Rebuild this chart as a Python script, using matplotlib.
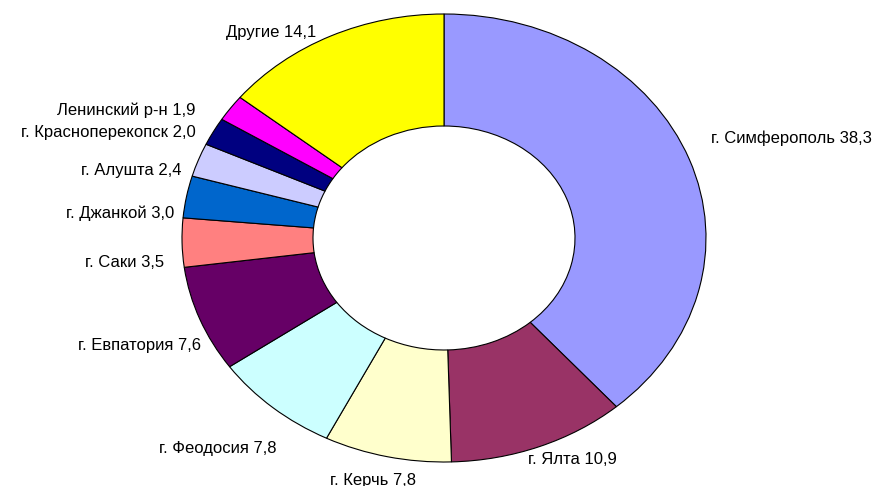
import numpy as np
import matplotlib.pyplot as plt

names = ["г. Симферополь", "г. Ялта", "г. Керчь", "г. Феодосия", "г. Евпатория",
         "г. Саки", "г. Джанкой", "г. Алушта", "г. Красноперекопск",
         "Ленинский р-н", "Другие"]
values = [38.3, 10.9, 7.8, 7.8, 7.6, 3.5, 3.0, 2.4, 2.0, 1.9, 14.1]
value_text = ["38,3", "10,9", "7,8", "7,8", "7,6", "3,5", "3,0", "2,4", "2,0", "1,9", "14,1"]
colors = ["#9999FF", "#993366", "#FFFFCC", "#CCFFFF", "#660066", "#FF8080",
          "#0066CC", "#CCCCFF", "#000080", "#FF00FF", "#FFFF00"]

# small shifts so labels sit like the Excel original
nudge = [(0.008, 0.066), (-0.074, 0.015), (-0.037, -0.026), (0.065, -0.122),
         (0.077, -0.088), (0.01, -0.087), (0.032, -0.089), (0.012, -0.077),
         (0.003, -0.044), (-0.067, -0.055), (-0.023, -0.059)]

plt.rcParams['font.family'] = ['Liberation Sans', 'DejaVu Sans']

fig = plt.figure(figsize=(8.76, 4.86), dpi=100)
ax = fig.add_axes([0, 0, 1, 1])

wedges, _ = ax.pie(values, colors=colors, startangle=90, counterclock=False,
                   radius=1.0,
                   wedgeprops=dict(width=0.5, edgecolor="black", linewidth=0.8))

ax.set_aspect('auto')
# pie center at pixel (444, 238); outer radius 262 px wide, 224 px tall
ax.set_xlim(-444 / 262, (876 - 444) / 262)
ax.set_ylim(-(486 - 238) / 224, 238 / 224)
ax.axis('off')

for w, n, t, (dx, dy) in zip(wedges, names, value_text, nudge):
    ang = np.deg2rad((w.theta1 + w.theta2) / 2)
    x = 1.08 * np.cos(ang)
    y = 1.08 * np.sin(ang)
    if abs(np.cos(ang)) < 0.3:
        ha = "center"
    elif np.cos(ang) > 0:
        ha = "left"
    else:
        ha = "right"
    ax.text(x + dx, y + dy, n + " " + t, ha=ha, va="center", fontsize=12)

fig.savefig("out.png", dpi=100)
